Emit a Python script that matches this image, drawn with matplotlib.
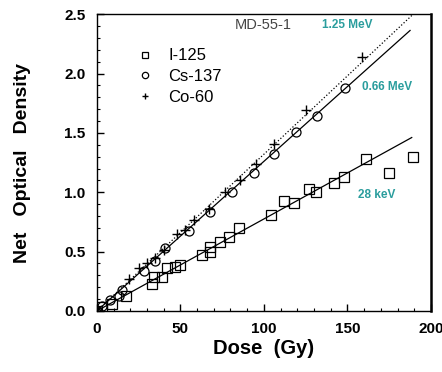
import numpy as np
import matplotlib
matplotlib.use("Agg")
import matplotlib.pyplot as plt
from matplotlib.ticker import MultipleLocator

plt.rcParams['font.family'] = ['Liberation Sans', 'DejaVu Sans']

# I-125 (28 keV)
i125_dose = [0, 3, 9, 17.5, 33, 34, 39, 42, 47, 50, 63, 68, 68, 74, 79, 85,
             104, 112, 118, 127, 131, 142, 148, 161, 175, 189]
i125_od = [0, 0.03, 0.06, 0.13, 0.23, 0.29, 0.29, 0.36, 0.37, 0.39, 0.47, 0.54,
           0.50, 0.58, 0.62, 0.70, 0.81, 0.93, 0.91, 1.03, 1.00, 1.08, 1.13,
           1.28, 1.16, 1.30]

# Cs-137 (0.66 MeV)
cs137_dose = [0, 3, 8, 13, 15, 28, 35, 41, 55, 68, 81, 94, 106, 119, 131.6, 148.6]
cs137_od = [0, 0.04, 0.09, 0.13, 0.18, 0.34, 0.42, 0.53, 0.67, 0.83, 1.00,
            1.16, 1.32, 1.51, 1.64, 1.88]

# Co-60 (1.25 MeV)
co60_dose = [19.5, 25, 30, 35, 40, 48, 53, 58, 67, 77, 86, 95, 106, 125, 158.5]
co60_od = [0.27, 0.36, 0.40, 0.45, 0.51, 0.65, 0.68, 0.77, 0.86, 1.00, 1.10,
           1.24, 1.41, 1.69, 2.14]

# fitted slopes (OD per Gy) and line end doses
fit_slopes = {'I-125': 0.00775, 'Cs-137': 0.0126, 'Co-60': 0.0132}
fit_end = {'I-125': 188.5, 'Cs-137': 187.5, 'Co-60': 195}

teal = '#2a9d9d'

fig = plt.figure(figsize=(4.42, 3.72), dpi=100)
ax = fig.add_axes([0.219, 0.164, 0.756, 0.798])

ax.plot(i125_dose, i125_od, ls='none', marker='s', ms=6.5, mfc='none',
        mec='black', mew=0.9, label='I-125')
ax.plot(cs137_dose, cs137_od, ls='none', marker='o', ms=6.5, mfc='none',
        mec='black', mew=0.9, label='Cs-137')
ax.plot(co60_dose, co60_od, ls='none', marker='+', ms=6.5, mec='black',
        mew=1.0, label='Co-60')

for name, style in [('I-125', '-'), ('Cs-137', '-'), ('Co-60', ':')]:
    xx = np.array([0, fit_end[name]])
    ax.plot(xx, fit_slopes[name] * xx, color='black', lw=0.9, ls=style)

ax.text(99.5, 2.41, 'MD-55-1', fontsize=10.5, color='#444444', ha='center', va='center')
ax.text(150, 2.41, '1.25 MeV', fontsize=8.5, color=teal, ha='center', va='center',
        fontweight='bold')
ax.text(173.5, 1.885, '0.66 MeV', fontsize=8.5, color=teal, ha='center', va='center',
        fontweight='bold')
ax.text(167.5, 0.98, '28 keV', fontsize=8.5, color=teal, ha='center', va='center',
        fontweight='bold')

leg = ax.legend(loc='upper left', bbox_to_anchor=(0.085, 0.935), frameon=False,
                fontsize=12, handletextpad=1.1, labelspacing=0.35,
                handlelength=0.6, markerscale=0.7)

ax.set_xlim(0, 200)
ax.set_ylim(0, 2.5)
ax.xaxis.set_major_locator(MultipleLocator(50))
ax.xaxis.set_minor_locator(MultipleLocator(10))
ax.yaxis.set_major_locator(MultipleLocator(0.5))
ax.yaxis.set_minor_locator(MultipleLocator(0.1))
ax.yaxis.set_major_formatter(plt.FormatStrFormatter('%.1f'))
ax.tick_params(which='both', direction='in', top=False, right=False)
ax.tick_params(which='major', length=5, width=1, labelsize=11)
ax.tick_params(axis='x', which='major', pad=8)
ax.tick_params(axis='y', which='major', pad=8)
ax.tick_params(which='minor', length=2.5, width=0.8)
for lbl in ax.get_xticklabels() + ax.get_yticklabels():
    lbl.set_fontweight('bold')
for side in ['left', 'bottom', 'top']:
    ax.spines[side].set_linewidth(1.0)
ax.spines['right'].set_linewidth(1.8)

ax.set_xlabel('Dose  (Gy)', fontsize=14.5, fontweight='bold', labelpad=2)
ax.set_ylabel('Net   Optical   Density', fontsize=14, fontweight='bold', labelpad=24)

fig.savefig('out.png', dpi=100)
